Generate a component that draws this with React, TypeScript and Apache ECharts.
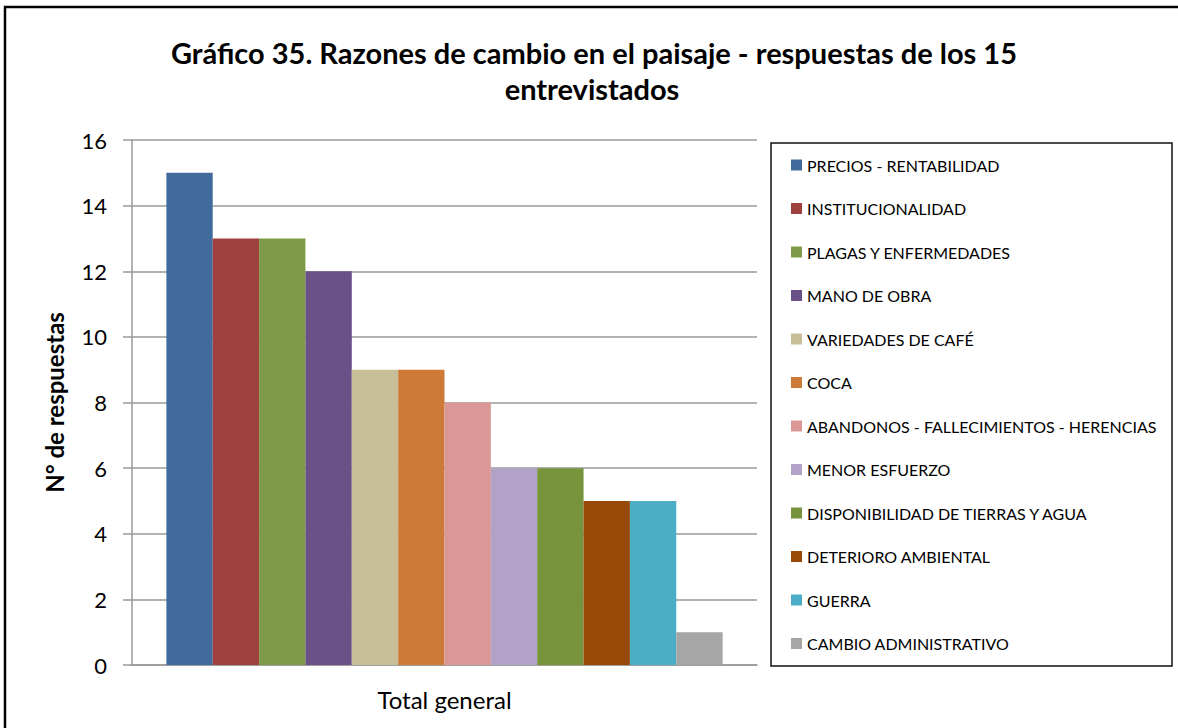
import React, { useEffect, useRef } from "react";
import * as echarts from "echarts";

const categories = ["Total general"];
const seriesNames = [
  "PRECIOS - RENTABILIDAD",
  "INSTITUCIONALIDAD",
  "PLAGAS Y ENFERMEDADES",
  "MANO DE OBRA",
  "VARIEDADES DE CAFÉ",
  "COCA",
  "ABANDONOS - FALLECIMIENTOS - HERENCIAS",
  "MENOR ESFUERZO",
  "DISPONIBILIDAD DE TIERRAS Y AGUA",
  "DETERIORO AMBIENTAL",
  "GUERRA",
  "CAMBIO ADMINISTRATIVO",
];
const seriesValues = [15, 13, 13, 12, 9, 9, 8, 6, 6, 5, 5, 1];
const colors = [
  "#416A9D",
  "#9E413F",
  "#7F9A48",
  "#6A5187",
  "#C6BF98",
  "#CD7A38",
  "#DA9795",
  "#B2A2C8",
  "#77933C",
  "#984807",
  "#4BADC6",
  "#A6A6A6",
];
const titleLines = ["Gráfico 35. Razones de cambio en el paisaje - respuestas de los 15", "entrevistados"];
const yAxisName = "N° de respuestas";

const FONT = "Lato, 'Open Sans', sans-serif";

export default function App() {
  const ref = useRef<HTMLDivElement>(null);
  useEffect(() => {
    if (!ref.current) return;
    const chart = echarts.init(ref.current, undefined, { renderer: "svg" });
    chart.setOption({
      animation: false,
      backgroundColor: "#ffffff",
      textStyle: { fontFamily: FONT },
      graphic: [
        {
          type: "rect",
          shape: { x: 5, y: 7, width: 1200, height: 800 },
          style: { fill: "none", stroke: "#000", lineWidth: 2.5 },
          silent: true,
        },
        {
          type: "rect",
          shape: { x: 771, y: 143, width: 401, height: 523 },
          style: { fill: "#fff", stroke: "#111", lineWidth: 1.5 },
          silent: true,
          z: -1,
        },
        {
          type: "text",
          x: 594,
          y: 52,
          style: {
            text: titleLines[0],
            fontFamily: FONT,
            fontSize: 29,
            fontWeight: "bold",
            fill: "#000",
            align: "center",
            verticalAlign: "middle",
          },
        },
        {
          type: "text",
          x: 592,
          y: 88,
          style: {
            text: titleLines[1],
            fontFamily: FONT,
            fontSize: 29,
            fontWeight: "bold",
            fill: "#000",
            align: "center",
            verticalAlign: "middle",
          },
        },
      ],
      legend: {
        orient: "vertical",
        left: 791,
        top: 157,
        itemWidth: 11,
        itemHeight: 11,
        itemGap: 27.5,
        icon: "rect",
        padding: 0,
        textStyle: { fontFamily: FONT, fontSize: 16, color: "#000", lineHeight: 16 },
        data: seriesNames,
      },
      grid: { left: 132, top: 140, width: 625, height: 525 },
      xAxis: {
        type: "category",
        data: categories,
        axisLine: { show: true, lineStyle: { color: "#999", width: 1.5 } },
        axisTick: { show: false },
        axisLabel: { fontFamily: FONT, fontSize: 24, color: "#000", margin: 22 },
      },
      yAxis: {
        type: "value",
        min: 0,
        max: 16,
        interval: 2,
        name: yAxisName,
        nameLocation: "middle",
        nameGap: 66,
        nameTextStyle: { fontFamily: FONT, fontSize: 24, fontWeight: "bold", color: "#000" },
        axisLine: { show: true, lineStyle: { color: "#999", width: 1.5 } },
        axisTick: { show: true, inside: false, length: 9, lineStyle: { color: "#999", width: 1.5 } },
        axisLabel: { fontFamily: FONT, fontSize: 22, color: "#000", margin: 25 },
        splitLine: { show: true, lineStyle: { color: "#999", width: 1.5 } },
      },
      series: seriesNames.map((name, i) => ({
        type: "bar",
        name,
        data: [seriesValues[i]],
        itemStyle: { color: colors[i] },
        barGap: "0%",
        barCategoryGap: "11%",
      })),
    });
    return () => chart.dispose();
  }, []);
  return (
    <div
      ref={ref}
      style={{ position: "fixed", left: 0, top: 0, width: 1178, height: 728 }}
    />
  );
}
